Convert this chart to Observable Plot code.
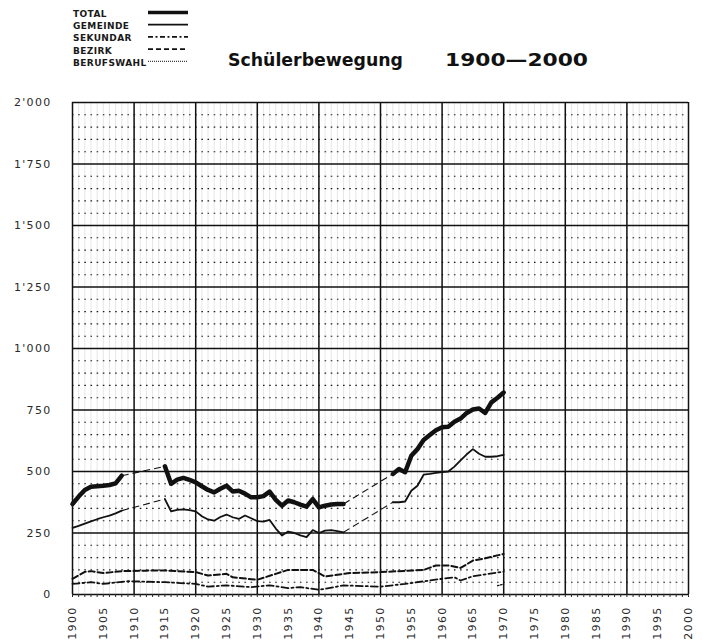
<!DOCTYPE html>
<html>
<head>
<meta charset="utf-8">
<script src="https://cdn.jsdelivr.net/npm/d3@7"></script>
<script src="https://cdn.jsdelivr.net/npm/@observablehq/plot@0.6"></script>
<style>
  body { margin: 0; background: #fff; }
  #wrap { position: relative; width: 703px; height: 643px; overflow: hidden; background: #fff; }
  #overlay { position: absolute; left: 0; top: 0; }
</style>
</head>
<body>
<div id="wrap"></div>
<script>
// ---------- DATA ----------
const schoolYears = [1900,1901,1902,1903,1904,1905,1906,1907,1908,
  1915,1916,1917,1918,1919,1920,1921,1922,1923,1924,1925,1926,1927,1928,1929,
  1930,1931,1932,1933,1934,1935,1936,1937,1938,1939,1940,1941,1942,1943,1944,
  1952,1953,1954,1955,1956,1957,1958,1959,1960,1961,1962,1963,1964,1965,1966,1967,1968,1969,1970];
const totalValues = [368,398,425,438,440,442,445,452,483,
  521,450,467,474,466,456,440,425,415,430,442,419,422,410,395,
  395,400,418,385,361,382,375,365,357,388,354,361,366,368,368,
  490,510,497,564,591,628,648,668,680,682,702,715,738,752,756,738,781,800,821];
const gemeindeValues = [271,279,288,297,306,314,321,330,341,
  388,338,344,346,343,338,318,305,300,315,325,314,307,321,310,
  298,296,303,268,240,256,250,240,233,262,250,260,262,258,253,
  375,375,378,422,442,487,490,494,498,500,520,545,570,591,572,560,560,562,568];
const bezirkYears  = [1900,1902,1903,1905,1908,1912,1915,1920,1922,1925,1926,1930,1933,1935,1939,1941,1945,1950,1957,1959,1961,1963,1965,1967,1970];
const bezirkValues = [64,92,95,87,95,97,98,91,77,84,70,60,84,100,100,73,87,91,100,118,118,108,138,147,165];
const sekundarYears  = [1900,1903,1905,1909,1915,1920,1922,1925,1929,1932,1935,1937,1940,1941,1944,1950,1954,1960,1962,1963,1965,1970];
const sekundarValues = [43,50,43,54,50,43,32,37,30,37,26,30,19,23,37,32,43,64,70,57,74,93];
const berufswahlYears  = [1969,1970];
const berufswahlValues = [36,42];

const seriesNames = ["TOTAL","GEMEINDE","SEKUNDAR","BEZIRK","BERUFSWAHL"];
const yTicks  = [0,250,500,750,1000,1250,1500,1750,2000];
const xLabels = [1900,1905,1910,1915,1920,1925,1930,1935,1940,1945,1950,1955,1960,1965,1970,1975,1980,1985,1990,1995,2000];
const titleMain = "Schülerbewegung";
const titleYears = "1900—2000";

// ---------- STYLES ----------
const styles = {
  TOTAL:      {stroke: "#111", strokeWidth: 4.5, strokeDasharray: null},
  GEMEINDE:   {stroke: "#111", strokeWidth: 1.8, strokeDasharray: null},
  SEKUNDAR:   {stroke: "#111", strokeWidth: 1.8, strokeDasharray: "7,3,2,3"},
  BEZIRK:     {stroke: "#111", strokeWidth: 2,   strokeDasharray: "6,3"},
  BERUFSWAHL: {stroke: "#111", strokeWidth: 1.3, strokeDasharray: "1.5,1.5"}
};

// ---------- build tables ----------
function rowsWithSegments(years, values) {
  let seg = 0;
  return years.map((y, i) => {
    if (i > 0 && y - years[i - 1] > 1) seg++;
    return {year: y, value: values[i], seg};
  });
}
function gapLinks(years, values) {
  const out = [];
  for (let i = 0; i < years.length - 1; i++) {
    if (years[i + 1] - years[i] > 1) out.push({x1: years[i], y1: values[i], x2: years[i + 1], y2: values[i + 1]});
  }
  return out;
}
const simpleRows = (years, values) => years.map((y, i) => ({year: y, value: values[i]}));

const totalRows = rowsWithSegments(schoolYears, totalValues);
const gemeindeRows = rowsWithSegments(schoolYears, gemeindeValues);
const links = [...gapLinks(schoolYears, totalValues), ...gapLinks(schoolYears, gemeindeValues)];

const allYears = d3.range(1900, 2001);
const decades = xLabels.filter(d => d % 10 === 0);
const yMinor = d3.range(0, 2001, 50).filter(d => !yTicks.includes(d));
const fmtY = d => d >= 1000 ? d3.format(",")(d).replace(",", "'") : String(d);

const lineMark = (rows, name, extra = {}) => Plot.line(rows, {
  x: "year", y: "value", ...extra,
  stroke: styles[name].stroke, strokeWidth: styles[name].strokeWidth,
  strokeDasharray: styles[name].strokeDasharray, strokeLinejoin: "round"
});

const chart = Plot.plot({
  width: 703, height: 643,
  marginTop: 102, marginLeft: 72, marginRight: 15, marginBottom: 49,
  x: {domain: [1900, 2000]},
  y: {domain: [0, 2000]},
  style: {fontFamily: "DejaVu Sans", fontSize: "11px", color: "#2a2a2a", background: "#fff", letterSpacing: "1.3px"},
  marks: [
    Plot.ruleX(allYears, {stroke: "#000", strokeOpacity: 0.14, strokeWidth: 0.7}),
    Plot.ruleY(yMinor, {stroke: "#222", strokeWidth: 1.1, strokeDasharray: "1.6,4.56"}),
    Plot.ruleX(decades, {stroke: "#111", strokeWidth: 1.5}),
    Plot.ruleY(yTicks, {stroke: "#111", strokeWidth: 1.5}),
    Plot.axisY({ticks: yTicks, tickSize: 0, tickPadding: 21, tickFormat: fmtY, label: null}),
    Plot.axisX({ticks: allYears, tickSize: 3, tickFormat: () => "", label: null}),
    Plot.axisX({ticks: xLabels, tickSize: 0, tickPadding: 12, tickRotate: -90, tickFormat: d => String(d), label: null}),
    Plot.link(links, {x1: "x1", y1: "y1", x2: "x2", y2: "y2", stroke: "#111", strokeWidth: 1.1, strokeDasharray: "7,4"}),
    lineMark(simpleRows(sekundarYears, sekundarValues), "SEKUNDAR"),
    lineMark(simpleRows(bezirkYears, bezirkValues), "BEZIRK"),
    lineMark(simpleRows(berufswahlYears, berufswahlValues), "BERUFSWAHL"),
    lineMark(gemeindeRows, "GEMEINDE", {z: "seg"}),
    lineMark(totalRows, "TOTAL", {z: "seg"})
  ]
});
document.getElementById("wrap").appendChild(chart);

// ---------- legend + title overlay ----------
const ov = d3.select("#wrap").append("svg").attr("id", "overlay")
  .attr("width", 703).attr("height", 100);
const lg = ov.selectAll("g.lg").data(seriesNames).join("g").attr("class", "lg")
  .attr("transform", (d, i) => `translate(0,${17 + i * 12.2})`);
lg.append("text").attr("x", 73).attr("y", 0).text(d => d)
  .attr("font-family", "DejaVu Sans").attr("font-weight", "bold")
  .attr("font-size", 9).attr("letter-spacing", 0.4).attr("fill", "#1a1a1a");
lg.append("line").attr("x1", 148).attr("x2", 188).attr("y1", -4.5).attr("y2", -4.5)
  .attr("stroke", d => styles[d].stroke)
  .attr("stroke-width", d => d === "TOTAL" ? 3.5 : (d === "BERUFSWAHL" ? 1 : 1.8))
  .attr("stroke-dasharray", d => d === "SEKUNDAR" ? "5,2.5,2,2.5" : d === "BEZIRK" ? "5,3" : d === "BERUFSWAHL" ? "1,1" : null);

ov.append("text").attr("x", 228).attr("y", 66).text(titleMain)
  .attr("font-family", "DejaVu Sans").attr("font-weight", "bold")
  .attr("font-size", 17).attr("textLength", 175).attr("lengthAdjust", "spacingAndGlyphs").attr("fill", "#111");
ov.append("text").attr("x", 445).attr("y", 66).text(titleYears)
  .attr("font-family", "DejaVu Sans").attr("font-weight", "bold")
  .attr("font-size", 17).attr("textLength", 143).attr("lengthAdjust", "spacingAndGlyphs").attr("fill", "#111");
</script>
</body>
</html>
